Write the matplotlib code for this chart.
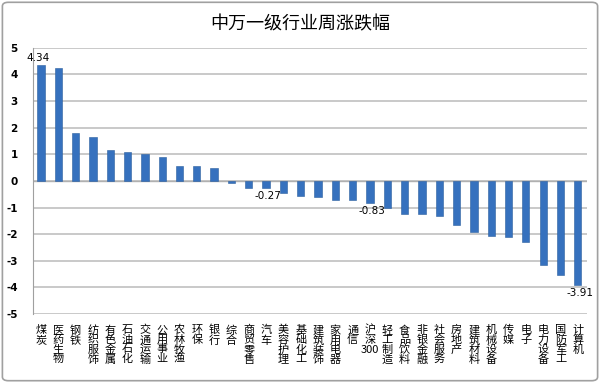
import matplotlib.pyplot as plt
from matplotlib.patches import FancyBboxPatch

plt.rcParams['font.family'] = ['Noto Sans CJK SC', 'DejaVu Sans']

# 申万一级行业周涨跌幅 (%)
industries = ['煤炭', '医药生物', '钢铁', '纺织服饰', '有色金属', '石油石化', '交通运输',
              '公用事业', '农林牧渔', '环保', '银行', '综合', '商贸零售', '汽车', '美容护理',
              '基础化工', '建筑装饰', '家用电器', '通信', '沪深300', '轻工制造', '食品饮料',
              '非银金融', '社会服务', '房地产', '建筑材料', '机械设备', '传媒', '电子',
              '电力设备', '国防军工', '计算机']
change = [4.34, 4.25, 1.79, 1.64, 1.16, 1.10, 1.01, 0.89, 0.58, 0.58, 0.50, -0.06,
          -0.25, -0.27, -0.44, -0.56, -0.62, -0.71, -0.71, -0.83, -1.00, -1.25, -1.25,
          -1.31, -1.65, -1.91, -2.07, -2.10, -2.31, -3.15, -3.52, -3.91]
labelled = ['煤炭', '汽车', '沪深300', '计算机']
yticks = [5, 4, 3, 2, 1, 0, -1, -2, -3, -4, -5]


def vertical(name):
    # stack characters top to bottom, keep digits together
    out = []
    buf = ''
    for ch in name:
        if ch.isdigit():
            buf += ch
        else:
            if buf:
                out.append(buf)
                buf = ''
            out.append(ch)
    if buf:
        out.append(buf)
    return '\n'.join(out)


fig = plt.figure(figsize=(6, 3.83), dpi=100)
fig.patches.append(FancyBboxPatch((0.004, 0.006), 0.992, 0.988, boxstyle='round,pad=0,rounding_size=0.01',
                                  transform=fig.transFigure, fill=False, edgecolor='#a0a0a0', lw=1.2))
ax = fig.add_axes([0.055, 0.18, 0.923, 0.695])

x = list(range(len(industries)))
ax.bar(x, change, width=0.42, color='#3671be', edgecolor='#2c5f9f', linewidth=0.4, zorder=3)

for xi, name, v in zip(x, industries, change):
    if name in labelled:
        if v > 0:
            ax.text(xi - 0.15, v + 0.08, f'{v:.2f}', ha='center', va='bottom', fontsize=7.5,
                    family='DejaVu Sans')
        else:
            ax.text(xi + 0.1, v - 0.1, f'{v:.2f}', ha='center', va='top', fontsize=7.5,
                    family='DejaVu Sans')

ax.set_ylim(-5, 5)
ax.set_xlim(-0.46, len(industries) - 0.48)
ax.set_yticks(yticks)
ax.set_yticklabels([str(t) for t in yticks], fontsize=7.5, fontweight='bold', family='DejaVu Sans')
ax.yaxis.grid(True, color='#c0c0c0', lw=1.2, zorder=0)
ax.set_axisbelow(True)
ax.tick_params(axis='y', length=0, pad=11)
ax.tick_params(axis='x', length=0, pad=8)
ax.set_xticks(x)
ax.set_xticklabels([vertical(n) for n in industries], fontsize=8, linespacing=0.95)
ax.axhline(0, color='#b0b0b0', lw=1, zorder=2)
for s in ['top', 'right', 'bottom']:
    ax.spines[s].set_visible(False)
ax.spines['left'].set_color('#a0a0a0')

fig.text(0.5, 0.937, '中万一级行业周涨跌幅', ha='center', va='center', fontsize=13)

fig.savefig('out.png', dpi=100)
